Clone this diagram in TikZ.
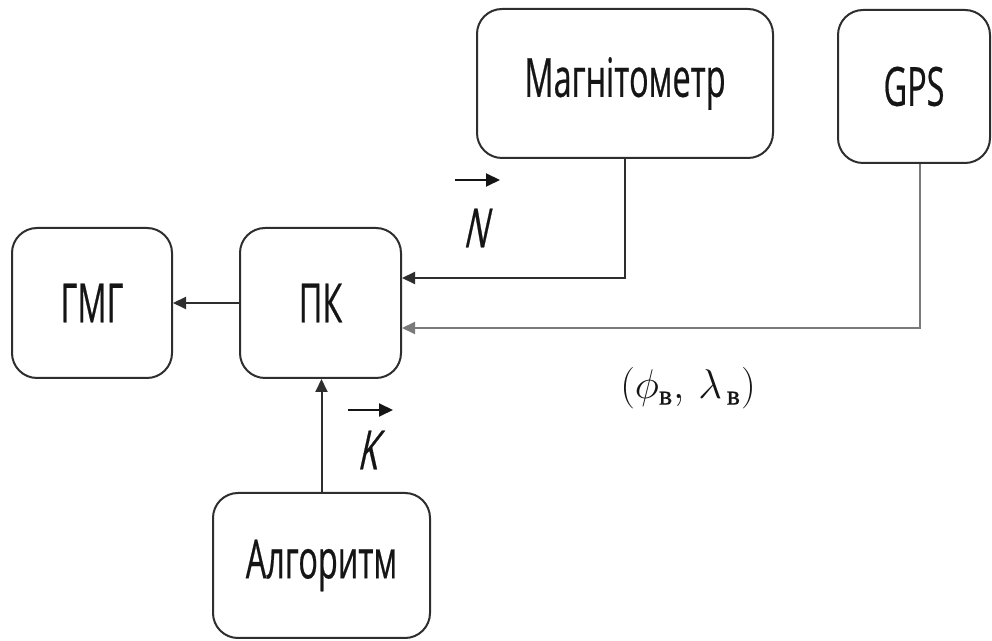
\documentclass[tikz,border=0pt]{standalone}
\usepackage{fontspec}
\usetikzlibrary{arrows.meta}
\newfontfamily\boxfont[FakeStretch=0.6,FakeBold=0.4]{Open Sans}
\newfontfamily\boxfontit[FakeStretch=0.6,FakeBold=0.4,FakeSlant=0.22]{Open Sans}
\newfontfamily\serifcyr[FakeBold=0.6]{Liberation Serif}
\definecolor{linec}{HTML}{2E2E2E}
\definecolor{gpsline}{HTML}{7A7A7A}
\definecolor{txt}{HTML}{151515}
\begin{document}
\begin{tikzpicture}[x=0.5pt,y=-0.5pt,
  blk/.style={draw=linec, line width=1pt, rounded corners=12.5pt, inner sep=0pt,
    font=\boxfont\fontsize{27}{30}\selectfont, text=txt},
  conn/.style={draw=linec, line width=1pt, -{Triangle[length=6.5pt,width=6pt]}},
  vec/.style={draw=txt, line width=1pt, -{Triangle[length=7pt,width=6.5pt]}},
  lbl/.style={font=\boxfontit\fontsize{27}{30}\selectfont, text=txt, inner sep=0pt},
]
\useasboundingbox (0,0) rectangle (992,641);
% blocks
\node[blk, minimum width=80pt, minimum height=75pt] (gmg) at (92,303) {ГМГ};
\node[blk, minimum width=80.5pt, minimum height=75pt] (pk) at (320.5,303) {ПК};
\node[blk, minimum width=148pt, minimum height=74.5pt] (mag) at (625,83.5) {Магнітометр};
\node[blk, minimum width=76pt, minimum height=76.5pt] (gps) at (914,86.5) {GPS};
\node[blk, minimum width=108.5pt, minimum height=72.5pt] (alg) at (321.5,565.5) {Алгоритм};
% connectors
\draw[conn] (pk.west) -- (gmg.east);
\draw[conn] (mag.south) |- ([yshift=12.5pt]pk.east);
\draw[conn, draw=gpsline] ([xshift=3pt]gps.south) |- ([yshift=-12.5pt]pk.east);
\draw[conn] (alg.north) -- (alg.north |- pk.south);
% labels
\node[lbl] (nlab) at (475,228) {N};
\coordinate (na) at (455,180);
\coordinate (nb) at (500,180);
\draw[vec] (na) -- (nb);
\node[lbl] (klab) at (367,450) {K};
\coordinate (ka) at (348,410);
\coordinate (kb) at (393,410);
\draw[vec] (ka) -- (kb);
\node[text=txt, inner sep=0pt] (coord) at (688,388)
  {\fontsize{22}{26}\selectfont$(\phi_{\mbox{\serifcyr\fontsize{14}{14}\selectfont в}},\,\lambda_{\,\mbox{\serifcyr\fontsize{14}{14}\selectfont в}})$};
\end{tikzpicture}
\end{document}
